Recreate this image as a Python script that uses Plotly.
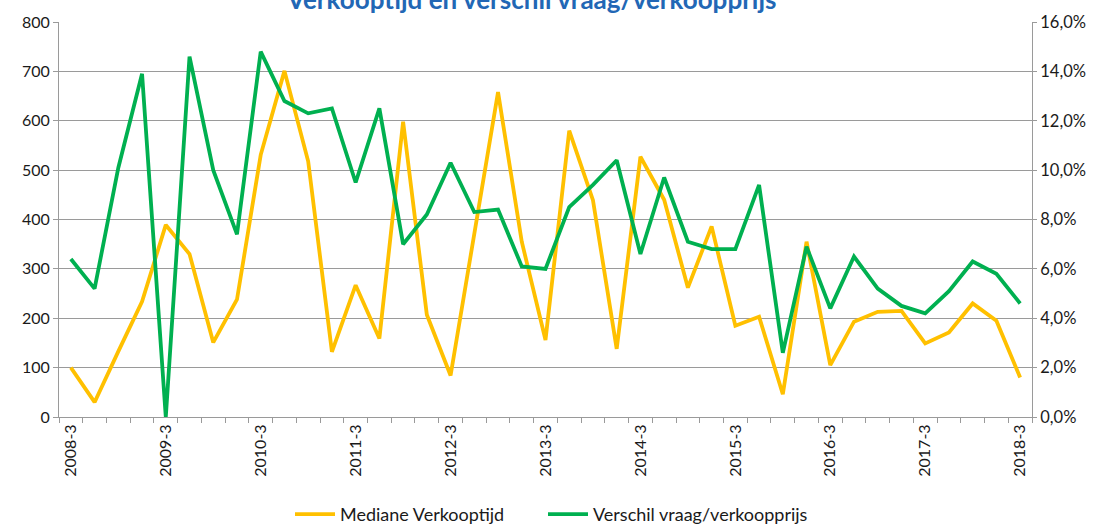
import plotly.graph_objects as go

quarters = [
    "2008-3", "2008-4", "2009-1", "2009-2", "2009-3", "2009-4", "2010-1", "2010-2",
    "2010-3", "2010-4", "2011-1", "2011-2", "2011-3", "2011-4", "2012-1", "2012-2",
    "2012-3", "2012-4", "2013-1", "2013-2", "2013-3", "2013-4", "2014-1", "2014-2",
    "2014-3", "2014-4", "2015-1", "2015-2", "2015-3", "2015-4", "2016-1", "2016-2",
    "2016-3", "2016-4", "2017-1", "2017-2", "2017-3", "2017-4", "2018-1", "2018-2",
    "2018-3",
]

verkooptijd = [100, 30, 133, 234, 389, 330, 151, 238, 531, 701, 518, 132, 267, 159,
               598, 207, 84, 370, 658, 355, 156, 580, 439, 138, 527, 440, 262, 386,
               185, 203, 46, 355, 105, 193, 213, 215, 149, 171, 230, 195, 80]

verschil = [0.064, 0.052, 0.101, 0.139, 0.000, 0.146, 0.100, 0.074, 0.148, 0.128,
            0.123, 0.125, 0.095, 0.125, 0.070, 0.082, 0.103, 0.083, 0.084, 0.061,
            0.060, 0.085, 0.094, 0.104, 0.066, 0.097, 0.071, 0.068, 0.068, 0.094,
            0.026, 0.069, 0.044, 0.065, 0.052, 0.045, 0.042, 0.051, 0.063, 0.058,
            0.046]

tick_labels = [q if i % 4 == 0 else "" for i, q in enumerate(quarters)]
title_text = "Verkooptijd en verschil vraag/verkoopprijs"

FONT = "Lato, 'Open Sans', sans-serif"
GRID = "#9a9a9a"

fig = go.Figure()
fig.add_trace(go.Scatter(
    x=quarters, y=verkooptijd, name="Mediane Verkooptijd", mode="lines",
    line=dict(color="#FFC000", width=3.8), yaxis="y", legend="legend"))
fig.add_trace(go.Scatter(
    x=quarters, y=verschil, name="Verschil vraag/verkoopprijs", mode="lines",
    line=dict(color="#00B050", width=3.8), yaxis="y2", legend="legend2"))

fig.add_annotation(text="<b>" + title_text + "</b>", xref="paper", yref="paper",
                   x=0.486, y=1.058, xanchor="center", yanchor="middle", showarrow=False,
                   font=dict(family=FONT, size=26, color="#2267B5"))

legend_common = dict(orientation="h", xref="container", xanchor="left",
                     y=0.02, yref="container", yanchor="middle",
                     font=dict(family=FONT, size=18), itemwidth=40,
                     bgcolor="rgba(0,0,0,0)")

fig.update_layout(
    width=1097, height=525,
    margin=dict(l=59, r=65, t=22, b=108),
    paper_bgcolor="white", plot_bgcolor="white",
    separators=",.",
    font=dict(family=FONT, size=16, color="#1a1a1a"),
    xaxis=dict(type="category", tickmode="array", tickvals=quarters, ticktext=tick_labels,
               tickson="boundaries", tickangle=-90, ticks="outside", ticklen=5,
               tickcolor=GRID, showline=True, linecolor=GRID, linewidth=1,
               showgrid=False, range=[-0.5, 40.5]),
    yaxis=dict(range=[0, 800], dtick=100, showgrid=True, gridcolor=GRID, gridwidth=1,
               showline=True, linecolor=GRID, ticks="outside", ticklen=5, tickcolor=GRID,
               zeroline=False),
    yaxis2=dict(range=[0, 0.16], dtick=0.02, tickformat=".1%", overlaying="y", side="right",
                showgrid=False, showline=True, linecolor=GRID, ticks="outside", ticklen=4,
                tickcolor=GRID, zeroline=False, tickfont=dict(size=16.5)),
    legend=dict(legend_common, x=290 / 1097),
    legend2=dict(legend_common, x=543 / 1097),
    showlegend=True,
)

fig.write_html("out.html", config={"displayModeBar": False},
               post_script="document.body.style.margin='0';document.body.style.overflow='hidden';")
